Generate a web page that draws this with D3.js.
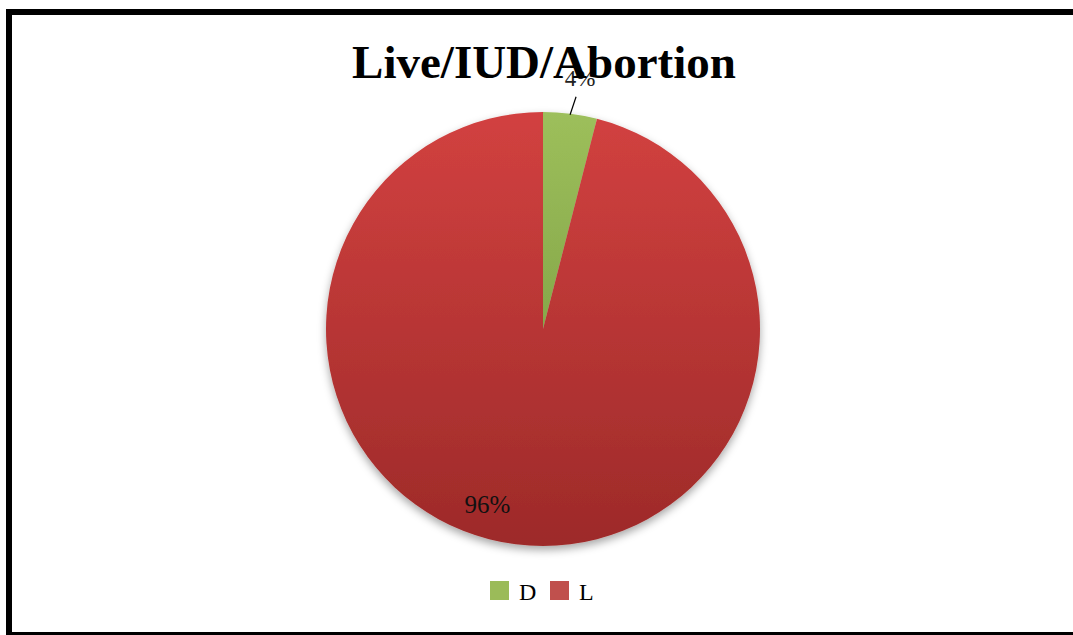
<!DOCTYPE html>
<html><head><meta charset="utf-8">
<script src="https://cdn.jsdelivr.net/npm/d3@7"></script>
<style>html,body{margin:0;padding:0;background:#fff;}svg{display:block;}</style>
</head><body>
<svg id="chart" width="1073" height="635"></svg>
<script>
const categories = ["D", "L"];
const values = [4, 96];
const labels = ["4%", "96%"];
const title = "Live/IUD/Abortion";

const svg = d3.select("#chart");
const W = 1073, H = 635;
const serif = "'Liberation Serif','Times New Roman',serif";

// frame
svg.append("rect").attr("x", 6).attr("y", 9).attr("width", W).attr("height", 6).attr("fill", "#000");
svg.append("rect").attr("x", 6).attr("y", 9).attr("width", 6).attr("height", H).attr("fill", "#000");
svg.append("rect").attr("x", 6).attr("y", 632).attr("width", W).attr("height", 4).attr("fill", "#000");

const defs = svg.append("defs");
const gR = defs.append("linearGradient").attr("id", "gr").attr("x1", 0).attr("y1", 0).attr("x2", 0).attr("y2", 1);
gR.append("stop").attr("offset", "0%").attr("stop-color", "#d24140");
gR.append("stop").attr("offset", "100%").attr("stop-color", "#9d2a29");
const gG = defs.append("linearGradient").attr("id", "gg").attr("x1", 0).attr("y1", 0).attr("x2", 0).attr("y2", 1);
gG.append("stop").attr("offset", "0%").attr("stop-color", "#9dbf5b");
gG.append("stop").attr("offset", "100%").attr("stop-color", "#86a84a");
const f = defs.append("filter").attr("id", "sh").attr("x", "-20%").attr("y", "-20%").attr("width", "140%").attr("height", "140%");
f.append("feDropShadow").attr("dx", 0).attr("dy", 4).attr("stdDeviation", 4).attr("flood-color", "#000").attr("flood-opacity", 0.35);

const colors = d3.scaleOrdinal().domain(categories).range(["url(#gg)", "url(#gr)"]);
const legendColors = d3.scaleOrdinal().domain(categories).range(["#9bbb59", "#c0504d"]);

const cx = 543, cy = 329, r = 217;
const pie = d3.pie().sort(null).value(d => d.v);
const data = pie(categories.map((c, i) => ({ c, v: values[i], l: labels[i] })));
const arc = d3.arc().innerRadius(0).outerRadius(r);

const g = svg.append("g").attr("transform", `translate(${cx},${cy})`);
g.append("g").attr("filter", "url(#sh)").selectAll("path").data(data).join("path")
  .attr("d", arc).attr("fill", d => colors(d.data.c));

// labels
const a0 = (data[0].startAngle + data[0].endAngle) / 2;
const p1 = [Math.sin(a0) * (r - 1), -Math.cos(a0) * (r - 1)];
g.append("line").attr("x1", p1[0]).attr("y1", p1[1]).attr("x2", p1[0] + 6).attr("y2", p1[1] - 18)
  .attr("stroke", "#000").attr("stroke-width", 1.2);
g.append("text").attr("x", p1[0] + 10).attr("y", p1[1] - 29).attr("text-anchor", "middle")
  .attr("font-family", serif).attr("font-size", 23).attr("fill", "#222").text(data[0].data.l);

const a1 = (data[1].startAngle + data[1].endAngle) / 2 + 0.18;
const rr = r * 0.85;
g.append("text").attr("x", Math.sin(a1) * rr).attr("y", -Math.cos(a1) * rr + 8)
  .attr("text-anchor", "middle").attr("font-family", serif).attr("font-size", 25).attr("fill", "#111")
  .text(data[1].data.l);

// title
svg.append("text").attr("x", 544).attr("y", 78).attr("text-anchor", "middle")
  .attr("font-family", serif).attr("font-weight", "bold").attr("font-size", 47).attr("fill", "#000")
  .text(title);

// legend
const lg = svg.append("g");
const lx = [490, 550];
categories.forEach((c, i) => {
  lg.append("rect").attr("x", lx[i]).attr("y", 581).attr("width", 19).attr("height", 19).attr("fill", legendColors(c));
  lg.append("text").attr("x", lx[i] + 29).attr("y", 600).attr("font-family", serif).attr("font-size", 24).attr("fill", "#000").text(c);
});
</script>
</body></html>
